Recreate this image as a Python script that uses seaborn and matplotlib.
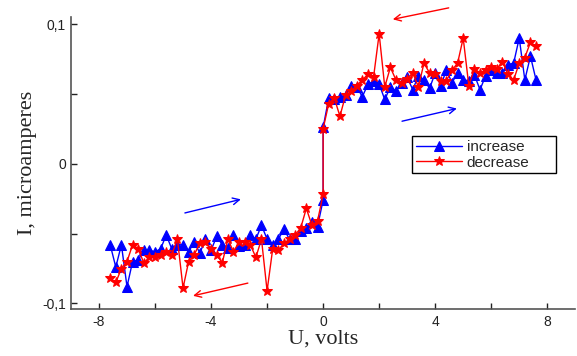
import numpy as np
import pandas as pd
import matplotlib
matplotlib.use('Agg')
import matplotlib.pyplot as plt
import seaborn as sns

# voltage grid: -7.6 .. -0.2, then 0 twice (jump), then 0.2 .. 7.6
u_neg = [round(-7.6 + 0.2 * i, 1) for i in range(38)]
u_pos = [round(0.2 + 0.2 * i, 1) for i in range(38)]
u = u_neg + [0.0, 0.0] + u_pos

i_increase = [
    -0.058, -0.074, -0.058, -0.088, -0.070, -0.069, -0.062, -0.062, -0.063, -0.061,
    -0.051, -0.061, -0.058, -0.058, -0.063, -0.056, -0.064, -0.054, -0.062, -0.052,
    -0.058, -0.060, -0.051, -0.059, -0.058, -0.051, -0.054, -0.044, -0.054, -0.058,
    -0.054, -0.047, -0.054, -0.054, -0.048, -0.046, -0.042, -0.045,
    -0.026, 0.026,
    0.047, 0.046, 0.048, 0.049, 0.056, 0.055, 0.048, 0.057, 0.059, 0.057,
    0.046, 0.055, 0.052, 0.058, 0.062, 0.053, 0.063, 0.060, 0.054, 0.065,
    0.056, 0.067, 0.058, 0.065, 0.060, 0.0595, 0.0636, 0.053, 0.063, 0.067,
    0.065, 0.065, 0.071, 0.072, 0.090, 0.060, 0.077, 0.060,
]
i_decrease = [
    -0.082, -0.085, -0.075, -0.070, -0.058, -0.061, -0.071, -0.067, -0.067, -0.065,
    -0.063, -0.065, -0.054, -0.089, -0.070, -0.065, -0.057, -0.056, -0.061, -0.065,
    -0.071, -0.054, -0.063, -0.056, -0.056, -0.058, -0.067, -0.054, -0.091, -0.061,
    -0.062, -0.057, -0.054, -0.051, -0.046, -0.032, -0.044, -0.041,
    -0.022, 0.025,
    0.043, 0.047, 0.034, 0.049, 0.052, 0.056, 0.060, 0.064, 0.062, 0.093,
    0.055, 0.069, 0.060, 0.058, 0.061, 0.065, 0.055, 0.072, 0.065, 0.064,
    0.059, 0.0595, 0.067, 0.072, 0.090, 0.056, 0.068, 0.065, 0.067, 0.069,
    0.068, 0.073, 0.064, 0.060, 0.072, 0.076, 0.087, 0.084,
]

x_ticks = [-8, -6, -4, -2, 0, 2, 4, 6, 8]
x_labels = ['-8', '', '-4', '', '0', '', '4', '', '8']
y_ticks = [-0.1, -0.05, 0, 0.05, 0.1]
y_labels = ['-0,1', '', '0', '', '0,1']

df_inc = pd.DataFrame({'U': u, 'I': i_increase})
df_dec = pd.DataFrame({'U': u, 'I': i_decrease})

sns.set_style('ticks')
plt.rcParams['font.family'] = ['Liberation Sans', 'DejaVu Sans']

fig = plt.figure(figsize=(5.77, 3.56), dpi=100)
ax = fig.add_axes([0.123, 0.132, 0.874, 0.82])

sns.lineplot(data=df_inc, x='U', y='I', ax=ax, color='blue', marker='^',
             markersize=7.5, markeredgecolor='blue', linewidth=1,
             estimator=None, sort=False, label='increase')
sns.lineplot(data=df_dec, x='U', y='I', ax=ax, color='red', marker='*',
             markersize=7, markeredgecolor='red', linewidth=1,
             estimator=None, sort=False, label='decrease')

# direction arrows
arrows = [
    ((-5.03, -0.0357), (-2.84, -0.025), 'blue'),
    ((-2.59, -0.085), (-4.74, -0.095), 'red'),
    ((4.58, 0.112), (2.39, 0.103), 'red'),
    ((2.72, 0.030), (4.87, 0.040), 'blue'),
]
for start, end, c in arrows:
    ax.annotate('', xy=end, xytext=start, annotation_clip=False,
                arrowprops=dict(arrowstyle='->', color=c, lw=1,
                                mutation_scale=12))

ax.set_xlim(-9, 9)
ax.set_ylim(-0.104, 0.105)
ax.set_xticks(x_ticks)
ax.set_xticklabels(x_labels)
ax.set_yticks(y_ticks)
ax.set_yticklabels(y_labels)
ax.tick_params(direction='in', length=4, width=1, labelsize=10, colors='#222')
ax.tick_params(axis='x', pad=4)

sns.despine(ax=ax)
for s in ['left', 'bottom']:
    ax.spines[s].set_color('#555')
    ax.spines[s].set_linewidth(1.2)

ax.set_xlabel('U, volts', fontsize=16, family=['Liberation Serif'], labelpad=1)
ax.set_ylabel('I, microamperes', fontsize=16, family=['Liberation Serif'], labelpad=4)

leg = ax.legend(loc='upper left', bbox_to_anchor=(0.677, 0.592, 0.284, 0),
                mode='expand', fontsize=11,
                fancybox=False, framealpha=1, edgecolor='black',
                borderpad=0.25, handlelength=3, handletextpad=0.3,
                labelspacing=0.1, borderaxespad=0)
leg.get_frame().set_linewidth(1)

fig.savefig('out.png', dpi=100)
